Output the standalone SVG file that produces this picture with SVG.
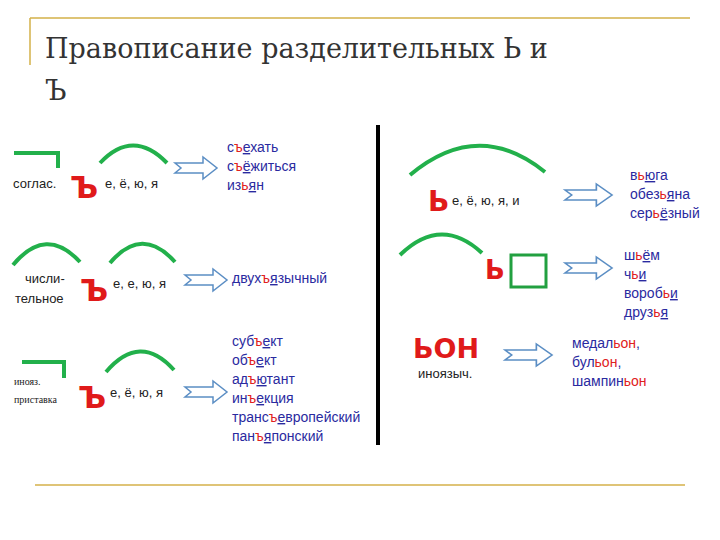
<svg xmlns="http://www.w3.org/2000/svg" width="720" height="540" viewBox="0 0 720 540">
<style>
.t{font-family:"Liberation Sans",Arial,sans-serif;font-size:13px;fill:#222}
.w{font-family:"Liberation Sans",Arial,sans-serif;font-size:14px;fill:#2a2aa0}
.s{font-family:"Liberation Serif","DejaVu Serif",serif;font-size:10px;fill:#222}
.r{fill:#e02020}
.u{text-decoration:underline}
.big{font-family:"DejaVu Sans",sans-serif;font-weight:bold;fill:#e01a1a}
.g{fill:none;stroke:#22b04b;stroke-width:4}
.ar{fill:#fff;stroke:#5b8ec4;stroke-width:1.5}
.ttl{font-family:"DejaVu Serif","Liberation Serif",serif;font-size:27px;fill:#333}
</style>
<defs>
<path id="arr" d="M0,-5 L28,-5 L28,-11 L42,0 L28,11 L28,5 L0,5 L6,0 Z"/>
</defs>
<rect width="720" height="540" fill="#fff"/>
<g id="frame" fill="none" stroke="#d4b14a" stroke-width="1.5">
<path d="M30,18 H690 M30,18 V65"/>
<path d="M35,485 H685"/>
</g>
<g id="title">
<text class="ttl" x="45" y="58">Правописание разделительных Ь и</text>
<text class="ttl" x="45" y="100">Ъ</text>
</g>
<line x1="378" y1="125" x2="378" y2="445" stroke="#000" stroke-width="4"/>
<g id="connectors" class="ar">
<use href="#arr" transform="translate(175,168)"/>
<use href="#arr" transform="translate(185,280)"/>
<use href="#arr" transform="translate(185,392)"/>
<use href="#arr" transform="translate(565,195) scale(1.12,1)"/>
<use href="#arr" transform="translate(565,268) scale(1.12,1)"/>
<use href="#arr" transform="translate(505,355) scale(1.12,1)"/>
</g>
<g id="row1">
<path class="g" d="M14,153 H58 V168"/>
<path class="g" d="M100,163 Q133,128 167,163"/>
<text class="t" x="13" y="188">соглас.</text>
<text class="big" x="70" y="198" font-size="30">Ъ</text>
<text class="t" x="105" y="188">е, ё, ю, я</text>
<text class="w" x="227" y="152">с<tspan class="r">ъ</tspan><tspan class="u">е</tspan>хать</text>
<text class="w" x="227" y="171">с<tspan class="r">ъ</tspan><tspan class="u">ё</tspan>житься</text>
<text class="w" x="227" y="190">из<tspan class="r">ь</tspan><tspan class="u">я</tspan>н</text>
</g>
<g id="row2">
<path class="g" d="M13,265 Q46,225 80,262"/>
<path class="g" d="M110,263 Q142,225 175,262"/>
<text class="t" x="25" y="283">числи-</text>
<text class="t" x="15" y="303">тельное</text>
<text class="big" x="80" y="301" font-size="30">Ъ</text>
<text class="t" x="113" y="288">е, е, ю, я</text>
<text class="w" x="232" y="283">двух<tspan class="r">ъ</tspan><tspan class="u">я</tspan>зычный</text>
</g>
<g id="row3">
<path class="g" d="M22,362 H64 V378"/>
<path class="g" d="M106,372 Q140,332 174,370"/>
<text class="s" x="14" y="385">инояз.</text>
<text class="s" x="14" y="403">приставка</text>
<text class="big" x="78" y="408" font-size="30">Ъ</text>
<text class="t" x="110" y="397">е, ё, ю, я</text>
<text class="w" x="232" y="346">суб<tspan class="r">ъ</tspan><tspan class="u">е</tspan>кт</text>
<text class="w" x="232" y="365">об<tspan class="r">ъ</tspan><tspan class="u">е</tspan>кт</text>
<text class="w" x="232" y="384">ад<tspan class="r">ъ</tspan><tspan class="u">ю</tspan>тант</text>
<text class="w" x="232" y="403">ин<tspan class="r">ъ</tspan><tspan class="u">е</tspan>кция</text>
<text class="w" x="232" y="422">транс<tspan class="r">ъ</tspan><tspan class="u">е</tspan>вропейский</text>
<text class="w" x="232" y="441">пан<tspan class="r">ъ</tspan><tspan class="u">я</tspan>понский</text>
</g>
<g id="row4">
<path class="g" d="M410,175 Q478,118 545,172"/>
<text class="big" x="428" y="211" font-size="28">Ь</text>
<text class="t" x="452" y="205">е, ё, ю, я, и</text>
<text class="w" x="630" y="180">в<tspan class="r">ь</tspan><tspan class="u">ю</tspan>га</text>
<text class="w" x="630" y="199">обез<tspan class="r">ь</tspan><tspan class="u">я</tspan>на</text>
<text class="w" x="630" y="218">сер<tspan class="r">ь</tspan><tspan class="u">ё</tspan>зный</text>
</g>
<g id="row5">
<path class="g" d="M400,255 Q441,215 482,253"/>
<text class="big" x="485" y="279" font-size="26">Ь</text>
<rect x="511" y="255" width="35" height="32" fill="none" stroke="#22a040" stroke-width="3"/>
<text class="w" x="624" y="260">ш<tspan class="r">ь</tspan><tspan class="u">ё</tspan>м</text>
<text class="w" x="624" y="279">ч<tspan class="r">ь</tspan><tspan class="u">и</tspan></text>
<text class="w" x="624" y="298">вороб<tspan class="r">ь</tspan><tspan class="u">и</tspan></text>
<text class="w" x="624" y="317">друз<tspan class="r">ь</tspan><tspan class="u">я</tspan></text>
</g>
<g id="row6">
<text class="big" x="413" y="358" font-size="27">ЬОН</text>
<text class="t" x="418" y="378" font-size="11">иноязыч.</text>
<text class="w" x="572" y="348">медал<tspan class="r">ьон</tspan>,</text>
<text class="w" x="572" y="367">бул<tspan class="r">ьон</tspan>,</text>
<text class="w" x="572" y="386">шампин<tspan class="r">ьон</tspan></text>
</g>
</svg>
